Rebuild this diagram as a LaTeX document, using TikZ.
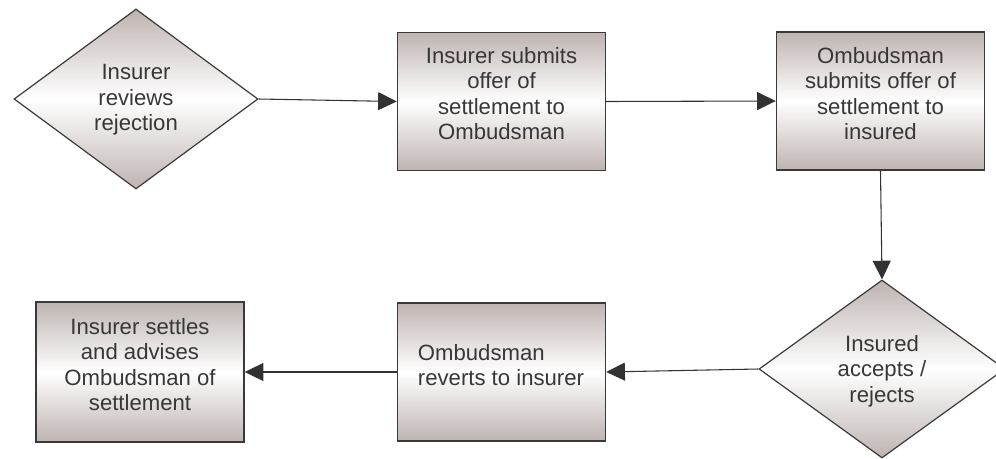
\documentclass[tikz,border=0pt]{standalone}
\usepackage{fontspec}
\setmainfont{Liberation Sans}
\usetikzlibrary{shapes.geometric,arrows.meta}
\definecolor{shadeC}{RGB}{190,180,177}
\definecolor{edgeC}{RGB}{58,58,58}
\definecolor{txtC}{RGB}{55,55,55}
\definecolor{arrC}{RGB}{50,50,52}
\tikzset{
  shadefill/.style={top color=shadeC, bottom color=shadeC, middle color=white},
  procbox/.style={rectangle, draw=edgeC, line width=1.1pt, shadefill, inner sep=0pt,
    minimum width=208\pxu, minimum height=138\pxu},
  decbox/.style={diamond, draw=edgeC, line width=0.9pt, shadefill, inner sep=0pt,
    minimum width=244\pxu, minimum height=180\pxu},
  lbl/.style={text=txtC, inner sep=0pt, font=\fontsize{16.6}{19.2}\selectfont},
  flow/.style={draw=arrC, line width=0.8pt, -{Triangle[length=14pt,width=13.5pt]}}
}
\newcommand{\pxu}{pt*0.75}
\begin{document}
\begin{tikzpicture}[x=0.75pt,y=-0.75pt]
\useasboundingbox (0,0) rectangle (996,458);
% shapes
\node[decbox] (d1) at (136,99) {};
\node[procbox] (b2) at (501.5,101.5) {};
\node[procbox] (b3) at (880.5,101) {};
\node[decbox, minimum width=246\pxu, minimum height=178\pxu] (d2) at (882,369) {};
\node[procbox] (b4) at (501.5,372) {};
\node[procbox, minimum height=140\pxu] (b5) at (140,372) {};
% texts
\node[lbl, align=center] (t1) at (136,100) {Insurer\\reviews\\rejection};
\node[lbl, align=center] (t2) at (501.5,93.5) {Insurer submits\\offer of\\settlement to\\Ombudsman};
\node[lbl, align=center] (t3) at (880.5,93.5) {Ombudsman\\submits offer of\\settlement to\\insured};
\node[lbl, align=center] (t4) at (882,371) {Insured\\accepts /\\rejects};
\node[lbl, align=left] (t5) at (501,365) {Ombudsman\\reverts to insurer};
\node[lbl, align=center] (t6) at (140,364.5) {Insurer settles\\and advises\\Ombudsman of\\settlement};
% connectors
\draw[flow] (d1.east) -- (b2.west);
\draw[flow] (b2.east) -- (b3.west);
\draw[flow] (b3.south) -- (d2.north);
\draw[flow] (d2.west) -- (b4.east);
\draw[flow] (b4.west) -- (b5.east);
\end{tikzpicture}
\end{document}
